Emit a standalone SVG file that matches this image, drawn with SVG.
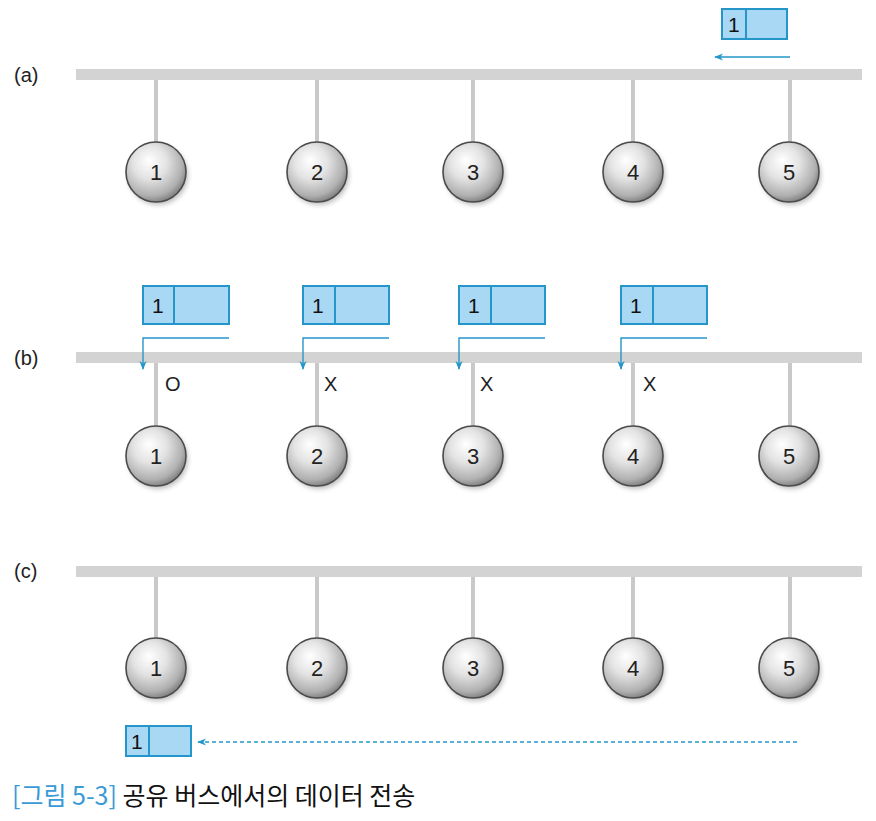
<svg xmlns="http://www.w3.org/2000/svg" width="876" height="821" viewBox="0 0 876 821">
<style>
.bus{fill:#d3d3d3}
.stem{stroke:#c9c9c9;stroke-width:4}
.node circle.ball{fill:url(#ballG);stroke:#4a4a4a;stroke-width:1.6}
.node circle.sh{fill:#000;opacity:0.25;filter:url(#blur)}
.num{font-family:"Liberation Sans","Noto Sans",sans-serif;font-size:22px;fill:#222;text-anchor:middle}
.lbl{font-family:"Liberation Sans","Noto Sans",sans-serif;font-size:20px;fill:#222}
.pk{fill:#a8d8f4;stroke:#2596c9;stroke-width:2}
.pkt{font-family:"Liberation Sans","Noto Sans",sans-serif;font-size:21px;fill:#111}
.arr{fill:none;stroke:#2596c9;stroke-width:1.4}
.cap{font-family:"Noto Sans CJK KR","Noto Sans",sans-serif;font-size:25px;font-weight:400}
</style>
<defs>
<radialGradient id="ballG" cx="0.42" cy="0.38" r="0.62" fx="0.38" fy="0.3">
<stop offset="0" stop-color="#ffffff"/>
<stop offset="0.45" stop-color="#e3e3e3"/>
<stop offset="0.85" stop-color="#b0b0b0"/>
<stop offset="1" stop-color="#868686"/>
</radialGradient>
<filter id="blur" x="-50%" y="-50%" width="200%" height="200%"><feGaussianBlur stdDeviation="2.5"/></filter>
<marker id="ah" viewBox="0 0 10 10" refX="9" refY="5" markerWidth="9" markerHeight="9" markerUnits="userSpaceOnUse" orient="auto">
<path d="M0,1 L10,5 L0,9 L3,5 Z" fill="#2596c9"/>
</marker>
</defs>

<!-- section labels -->
<text class="lbl" x="14" y="82">(a)</text>
<text class="lbl" x="14" y="365">(b)</text>
<text class="lbl" x="14" y="578">(c)</text>

<!-- buses and stems -->
<g id="bus-a">
<rect class="bus" x="76" y="69" width="786" height="11"/>
<line class="stem" x1="156" y1="80" x2="156" y2="142"/>
<line class="stem" x1="317" y1="80" x2="317" y2="142"/>
<line class="stem" x1="473" y1="80" x2="473" y2="142"/>
<line class="stem" x1="633" y1="80" x2="633" y2="142"/>
<line class="stem" x1="790" y1="80" x2="790" y2="142"/>
</g>
<g id="bus-b">
<rect class="bus" x="76" y="352" width="786" height="11"/>
<line class="stem" x1="156" y1="363" x2="156" y2="426"/>
<line class="stem" x1="317" y1="363" x2="317" y2="426"/>
<line class="stem" x1="473" y1="363" x2="473" y2="426"/>
<line class="stem" x1="633" y1="363" x2="633" y2="426"/>
<line class="stem" x1="790" y1="363" x2="790" y2="426"/>
</g>
<g id="bus-c">
<rect class="bus" x="76" y="566" width="786" height="11"/>
<line class="stem" x1="156" y1="577" x2="156" y2="639"/>
<line class="stem" x1="317" y1="577" x2="317" y2="639"/>
<line class="stem" x1="473" y1="577" x2="473" y2="639"/>
<line class="stem" x1="633" y1="577" x2="633" y2="639"/>
<line class="stem" x1="790" y1="577" x2="790" y2="639"/>
</g>

<!-- nodes (a) -->
<g id="a1" class="node"><circle class="sh" cx="158" cy="175" r="30"/><circle class="ball" cx="156" cy="172" r="30"/><text class="num" x="156" y="180">1</text></g>
<g id="a2" class="node"><circle class="sh" cx="319" cy="175" r="30"/><circle class="ball" cx="317" cy="172" r="30"/><text class="num" x="317" y="180">2</text></g>
<g id="a3" class="node"><circle class="sh" cx="475" cy="175" r="30"/><circle class="ball" cx="473" cy="172" r="30"/><text class="num" x="473" y="180">3</text></g>
<g id="a4" class="node"><circle class="sh" cx="635" cy="175" r="30"/><circle class="ball" cx="633" cy="172" r="30"/><text class="num" x="633" y="180">4</text></g>
<g id="a5" class="node"><circle class="sh" cx="791" cy="175" r="30"/><circle class="ball" cx="789" cy="172" r="30"/><text class="num" x="789" y="180">5</text></g>

<!-- nodes (b) -->
<g id="b1" class="node"><circle class="sh" cx="158" cy="459" r="30"/><circle class="ball" cx="156" cy="456" r="30"/><text class="num" x="156" y="464">1</text></g>
<g id="b2" class="node"><circle class="sh" cx="319" cy="459" r="30"/><circle class="ball" cx="317" cy="456" r="30"/><text class="num" x="317" y="464">2</text></g>
<g id="b3" class="node"><circle class="sh" cx="475" cy="459" r="30"/><circle class="ball" cx="473" cy="456" r="30"/><text class="num" x="473" y="464">3</text></g>
<g id="b4" class="node"><circle class="sh" cx="635" cy="459" r="30"/><circle class="ball" cx="633" cy="456" r="30"/><text class="num" x="633" y="464">4</text></g>
<g id="b5" class="node"><circle class="sh" cx="791" cy="459" r="30"/><circle class="ball" cx="789" cy="456" r="30"/><text class="num" x="789" y="464">5</text></g>

<!-- nodes (c) -->
<g id="c1" class="node"><circle class="sh" cx="158" cy="671" r="30"/><circle class="ball" cx="156" cy="668" r="30"/><text class="num" x="156" y="676">1</text></g>
<g id="c2" class="node"><circle class="sh" cx="319" cy="671" r="30"/><circle class="ball" cx="317" cy="668" r="30"/><text class="num" x="317" y="676">2</text></g>
<g id="c3" class="node"><circle class="sh" cx="475" cy="671" r="30"/><circle class="ball" cx="473" cy="668" r="30"/><text class="num" x="473" y="676">3</text></g>
<g id="c4" class="node"><circle class="sh" cx="635" cy="671" r="30"/><circle class="ball" cx="633" cy="668" r="30"/><text class="num" x="633" y="676">4</text></g>
<g id="c5" class="node"><circle class="sh" cx="791" cy="671" r="30"/><circle class="ball" cx="789" cy="668" r="30"/><text class="num" x="789" y="676">5</text></g>

<!-- packets -->
<g id="pkt-a"><rect class="pk" x="722" y="9" width="65" height="30"/><line class="pk" x1="746" y1="9" x2="746" y2="39"/><text class="pkt" x="728" y="32">1</text></g>
<g id="pkt-b1"><rect class="pk" x="143" y="286" width="86" height="38"/><line class="pk" x1="174" y1="286" x2="174" y2="324"/><text class="pkt" x="152" y="313">1</text></g>
<g id="pkt-b2"><rect class="pk" x="303" y="286" width="86" height="38"/><line class="pk" x1="335" y1="286" x2="335" y2="324"/><text class="pkt" x="312" y="313">1</text></g>
<g id="pkt-b3"><rect class="pk" x="459" y="286" width="86" height="38"/><line class="pk" x1="491" y1="286" x2="491" y2="324"/><text class="pkt" x="468" y="313">1</text></g>
<g id="pkt-b4"><rect class="pk" x="621" y="286" width="86" height="38"/><line class="pk" x1="653" y1="286" x2="653" y2="324"/><text class="pkt" x="630" y="313">1</text></g>
<g id="pkt-c"><rect class="pk" x="126" y="726" width="65" height="30"/><line class="pk" x1="149" y1="726" x2="149" y2="756"/><text class="pkt" x="131" y="749">1</text></g>

<!-- receive marks -->
<text class="lbl" x="165" y="391">O</text>
<text class="lbl" x="324" y="391">X</text>
<text class="lbl" x="480" y="391">X</text>
<text class="lbl" x="643" y="391">X</text>

<!-- connectors -->
<g id="connectors">
<line class="arr" x1="790" y1="57" x2="715" y2="57" marker-end="url(#ah)"/>
<polyline class="arr" points="229,338 143,338 143,369" marker-end="url(#ah)"/>
<polyline class="arr" points="389,338 303,338 303,369" marker-end="url(#ah)"/>
<polyline class="arr" points="545,338 459,338 459,369" marker-end="url(#ah)"/>
<polyline class="arr" points="707,338 621,338 621,369" marker-end="url(#ah)"/>
<line class="arr" x1="797" y1="742" x2="198" y2="742" stroke-dasharray="4,3" marker-end="url(#ah)"/>
</g>

<!-- caption -->
<text class="cap" x="12" y="805"><tspan fill="#3a9ad6">[그림 5-3]</tspan><tspan fill="#111"> 공유 버스에서의 데이터 전송</tspan></text>
</svg>
